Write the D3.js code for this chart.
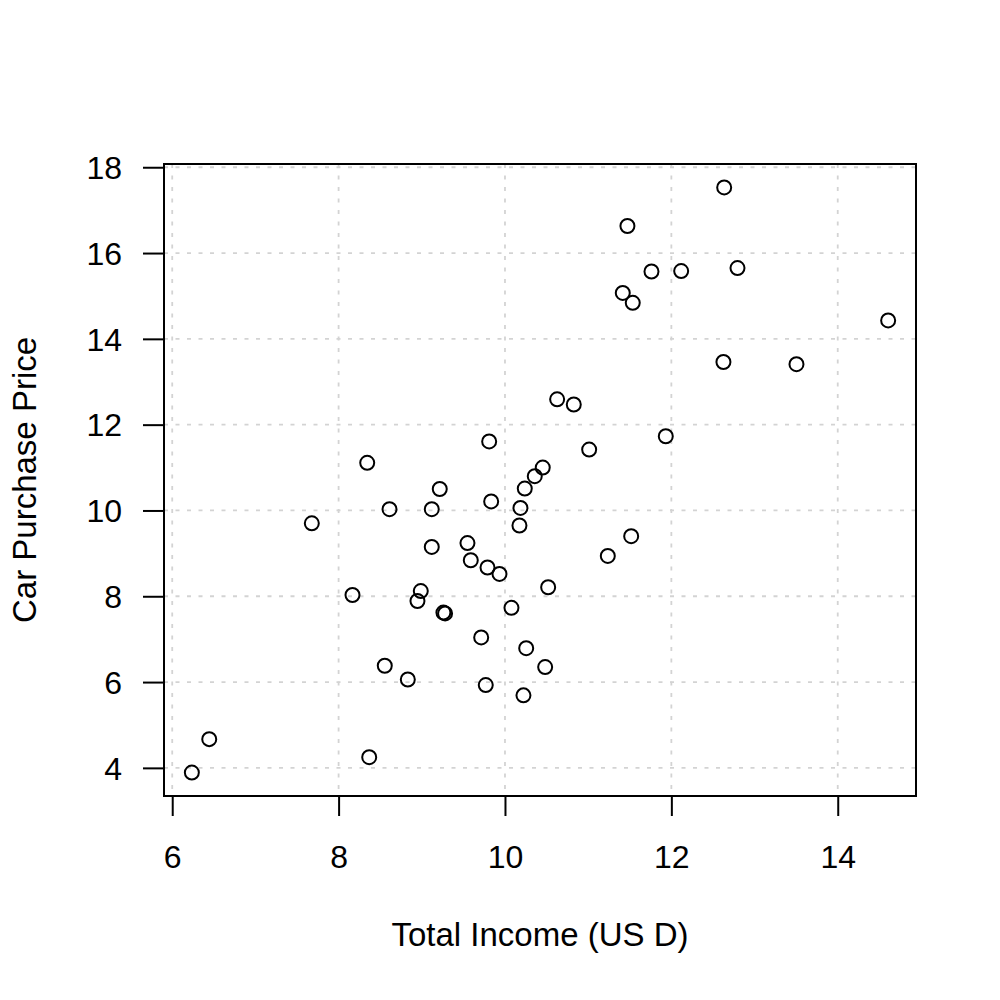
<!DOCTYPE html>
<html>
<head>
<meta charset="utf-8">
<script src="https://cdn.jsdelivr.net/npm/d3@7"></script>
<style>
  html, body { margin: 0; padding: 0; background: #fff; }
  svg { display: block; }
  text { font-family: "Liberation Sans", Arial, Helvetica, sans-serif; fill: #000; }
</style>
</head>
<body>
<script>
// Data
const income = [6.236, 6.445, 8.368, 8.832, 9.769, 10.222, 10.483, 10.255, 9.714, 10.078,
  9.26, 9.28, 8.948, 8.988, 10.519, 9.934, 9.790, 9.589, 11.236, 9.549,
  9.120, 11.517, 10.174, 10.186, 9.120, 9.834, 9.216, 10.238, 10.358, 10.454,
  11.012, 9.810, 7.678, 8.167, 8.344, 8.555, 8.612, 10.627, 10.827, 11.933,
  11.416, 11.472, 11.536, 11.761, 12.118, 12.635, 12.626, 12.795, 13.504, 14.606];
const price = [3.89, 4.67, 4.25, 6.06, 5.93, 5.69, 6.35, 6.79, 7.04, 7.73,
  7.62, 7.60, 7.89, 8.12, 8.21, 8.52, 8.67, 8.84, 8.94, 9.24,
  9.15, 9.40, 9.65, 10.06, 10.03, 10.21, 10.50, 10.51, 10.80, 11.00,
  11.42, 11.61, 9.70, 8.03, 11.11, 6.38, 10.03, 12.59, 12.47, 11.73,
  15.07, 16.63, 14.84, 15.57, 15.58, 17.53, 13.46, 15.65, 13.41, 14.43];
const xTicks = [6, 8, 10, 12, 14];
const yTicks = [4, 6, 8, 10, 12, 14, 16, 18];
const xLabel = "Total Income (US D)";
const yLabel = "Car Purchase Price";

const W = 1000, H = 1000;
const pLeft = 164, pRight = 916, pTop = 164, pBottom = 796;

function ext(arr) {
  const [a, b] = d3.extent(arr);
  const d = (b - a) * 0.04;
  return [a - d, b + d];
}

const x = d3.scaleLinear().domain(ext(income)).range([pLeft, pRight]);
const y = d3.scaleLinear().domain(ext(price)).range([pBottom, pTop]);

const svg = d3.select("body").append("svg").attr("width", W).attr("height", H);

// grid
const grid = svg.append("g").attr("stroke", "#d3d3d3").attr("stroke-width", 1.8)
  .attr("stroke-dasharray", "4,7.5").attr("fill", "none");
grid.selectAll("line.v").data(xTicks).join("line").attr("class", "v")
  .attr("x1", d => x(d)).attr("x2", d => x(d)).attr("y1", pTop).attr("y2", pBottom);
grid.selectAll("line.h").data(yTicks).join("line").attr("class", "h")
  .attr("x1", pLeft).attr("x2", pRight).attr("y1", d => y(d)).attr("y2", d => y(d));

// axes
const xAxis = d3.axisBottom(x).tickValues(xTicks).tickSize(20).tickPadding(18).tickFormat(d3.format("d"));
const yAxis = d3.axisLeft(y).tickValues(yTicks).tickSize(21).tickPadding(21).tickFormat(d3.format("d"));

const gx = svg.append("g").attr("transform", `translate(0,${pBottom})`).call(xAxis);
const gy = svg.append("g").attr("transform", `translate(${pLeft},0)`).call(yAxis);
[gx, gy].forEach(g => {
  g.select(".domain").remove();
  g.selectAll(".tick line").attr("stroke", "#000").attr("stroke-width", 2);
  g.selectAll(".tick text").attr("font-size", 32).attr("fill", "#000")
    .style("font-family", "'Liberation Sans', Arial, Helvetica, sans-serif");
});
gx.selectAll(".tick text").attr("dy", null).attr("y", 72);
gy.selectAll(".tick text").attr("dy", "0.35em");

// box
svg.append("rect").attr("x", pLeft).attr("y", pTop).attr("width", pRight - pLeft).attr("height", pBottom - pTop)
  .attr("fill", "none").attr("stroke", "#000").attr("stroke-width", 2);

// points
svg.append("g").selectAll("circle").data(income).join("circle")
  .attr("cx", d => x(d)).attr("cy", (d, i) => y(price[i])).attr("r", 7)
  .attr("fill", "none").attr("stroke", "#000").attr("stroke-width", 2);

// labels
svg.append("text").attr("x", (pLeft + pRight) / 2).attr("y", 946).attr("text-anchor", "middle")
  .attr("font-size", 33).text(xLabel);
svg.append("text").attr("transform", `translate(36,${(pTop + pBottom) / 2}) rotate(-90)`)
  .attr("text-anchor", "middle").attr("font-size", 33).text(yLabel);
</script>
</body>
</html>
